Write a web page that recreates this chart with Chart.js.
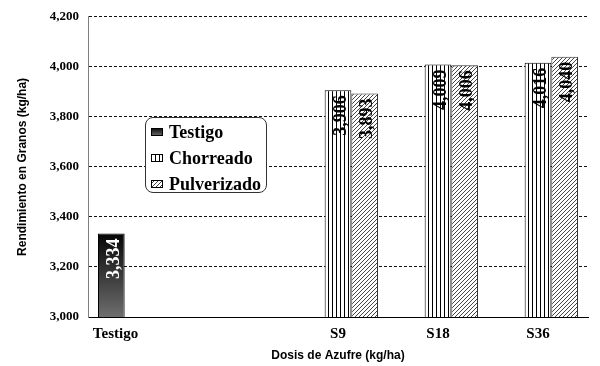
<!DOCTYPE html>
<html><head><meta charset="utf-8">
<script src="https://cdn.jsdelivr.net/npm/chart.js@4/dist/chart.umd.min.js"></script>
<style>
html,body{margin:0;padding:0;background:#fff;}
#wrap{position:relative;width:600px;height:366px;}
#legend{position:absolute;left:145px;top:117px;width:120px;height:74px;border:1px solid #333;border-radius:8px;background:#fff;font:bold 18px "Liberation Serif","Times New Roman",serif;color:#000;}
.item{position:absolute;left:5px;height:20px;display:flex;align-items:center;white-space:nowrap;}
.item canvas{display:block;margin-right:6px;}
</style></head>
<body><div id="wrap"><canvas id="c" width="600" height="366"></canvas><div id="legend"></div></div>
<script>
// ---- data ----
const categories = ['Testigo', '', 'S9', 'S18', 'S36'];
const seriesNames = ['Testigo', 'Chorreado', 'Pulverizado'];
const testigo = [3334, null, null, null, null];
const chorreado = [null, null, 3906, 4009, 4016];
const pulverizado = [null, null, 3893, 4006, 4040];
const yMin = 3000, yMax = 4200, yStep = 200;
const yTitle = 'Rendimiento en Granos (kg/ha)';
const xTitle = 'Dosis de Azufre (kg/ha)';

const SERIF = '"Liberation Serif","Times New Roman",serif';
const SANS = '"Liberation Sans",Arial,sans-serif';

function makeStripe() {
  const c = document.createElement('canvas'); c.width = 4; c.height = 4;
  const g = c.getContext('2d');
  g.fillStyle = '#fff'; g.fillRect(0, 0, 4, 4);
  g.fillStyle = '#000'; g.fillRect(0, 0, 1, 4);
  return c;
}
function makeHatch() {
  const c = document.createElement('canvas'); c.width = 4; c.height = 4;
  const g = c.getContext('2d');
  g.fillStyle = '#fff'; g.fillRect(0, 0, 4, 4);
  g.fillStyle = '#444';
  g.fillRect(3, 0, 1, 1); g.fillRect(2, 1, 1, 1); g.fillRect(1, 2, 1, 1); g.fillRect(0, 3, 1, 1);
  return c;
}
const ctx0 = document.getElementById('c').getContext('2d');
const stripePat = ctx0.createPattern(makeStripe(), 'repeat');
const hatchPat = ctx0.createPattern(makeHatch(), 'repeat');

function testigoFill(context) {
  const chart = context.chart;
  const area = chart.chartArea;
  const ys = chart.scales && chart.scales.y;
  if (!area || !ys || context.raw == null) return '#333';
  const top = ys.getPixelForValue(context.raw);
  const g = chart.ctx.createLinearGradient(0, top, 0, area.bottom);
  g.addColorStop(0, '#050505');
  g.addColorStop(1, '#6e6e6e');
  return g;
}

const valueLabels = {
  id: 'valueLabels',
  afterDatasetsDraw(chart) {
    const ctx = chart.ctx;
    chart.data.datasets.forEach((ds, i) => {
      const meta = chart.getDatasetMeta(i);
      meta.data.forEach((bar, j) => {
        const v = ds.data[j];
        if (v == null) return;
        ctx.save();
        ctx.translate(bar.x + 3, bar.y + 5);
        ctx.rotate(-Math.PI / 2);
        ctx.font = 'bold 18px ' + SERIF;
        ctx.fillStyle = i === 0 ? '#fff' : '#000';
        ctx.textAlign = 'right';
        ctx.textBaseline = 'middle';
        ctx.fillText(v.toLocaleString('en-US'), 0, 0);
        ctx.restore();
      });
    });
  }
};

const chart = new Chart(ctx0, {
  type: 'bar',
  data: {
    labels: categories,
    datasets: [
      { label: seriesNames[0], data: testigo, backgroundColor: testigoFill, borderColor: '#000', borderWidth: 1 },
      { label: seriesNames[1], data: chorreado, backgroundColor: stripePat, borderColor: '#000', borderWidth: 1 },
      { label: seriesNames[2], data: pulverizado, backgroundColor: hatchPat, borderColor: '#333', borderWidth: 1 }
    ]
  },
  options: {
    responsive: false,
    animation: false,
    devicePixelRatio: 1,
    categoryPercentage: 0.8,
    barPercentage: 1.0,
    layout: { padding: { top: 13, right: 12, left: 0, bottom: 0 } },
    plugins: { legend: { display: false }, tooltip: { enabled: false } },
    scales: {
      x: {
        grid: { display: false, drawTicks: false },
        border: { display: true, color: '#000', width: 1 },
        ticks: {
          color: '#000', padding: 8,
          font: { family: SERIF, size: 15, weight: 'bold' },
          maxRotation: 0, autoSkip: false,
          callback: function (v, i) {
            const lab = this.getLabelForValue(v);
            return i === 0 ? lab + '\u00a0'.repeat(12) : lab;
          }
        },
        title: { display: true, text: xTitle, color: '#000', font: { family: SANS, size: 12, weight: 'bold' }, padding: { top: 0, bottom: 3 } },
        afterFit: s => { s.height = 49; }
      },
      y: {
        min: yMin, max: yMax,
        grid: { color: '#111', lineWidth: 1, drawTicks: false },
        border: { display: true, color: '#808080', width: 1, dash: [3, 2] },
        ticks: {
          stepSize: yStep, color: '#000', padding: 9,
          font: { family: SERIF, size: 13, weight: 'bold' },
          callback: v => v.toLocaleString('en-US')
        },
        title: { display: true, text: yTitle, color: '#000', font: { family: SANS, size: 12, weight: 'bold' }, padding: { top: 15, bottom: 0 } },
        afterFit: s => { s.width = 88; }
      }
    }
  },
  plugins: [valueLabels]
});

// ---- HTML legend ----
const legend = document.getElementById('legend');
const swatchSrc = [null, makeStripe(), makeHatch()];
const itemTops = [4, 30, 56];
seriesNames.forEach((name, i) => {
  const it = document.createElement('div');
  it.className = 'item';
  it.style.top = itemTops[i] + 'px';
  const sw = document.createElement('canvas');
  sw.width = 12; sw.height = 8;
  const g = sw.getContext('2d');
  if (i === 0) {
    const gr = g.createLinearGradient(0, 0, 0, 8);
    gr.addColorStop(0, '#050505'); gr.addColorStop(1, '#6e6e6e');
    g.fillStyle = gr;
  } else {
    g.fillStyle = g.createPattern(swatchSrc[i], 'repeat');
  }
  g.fillRect(0, 0, 12, 8);
  g.strokeStyle = '#000'; g.lineWidth = 1; g.strokeRect(0.5, 0.5, 11, 7);
  it.appendChild(sw);
  const t = document.createElement('span');
  t.textContent = name;
  it.appendChild(t);
  legend.appendChild(it);
});
</script>
</body></html>
